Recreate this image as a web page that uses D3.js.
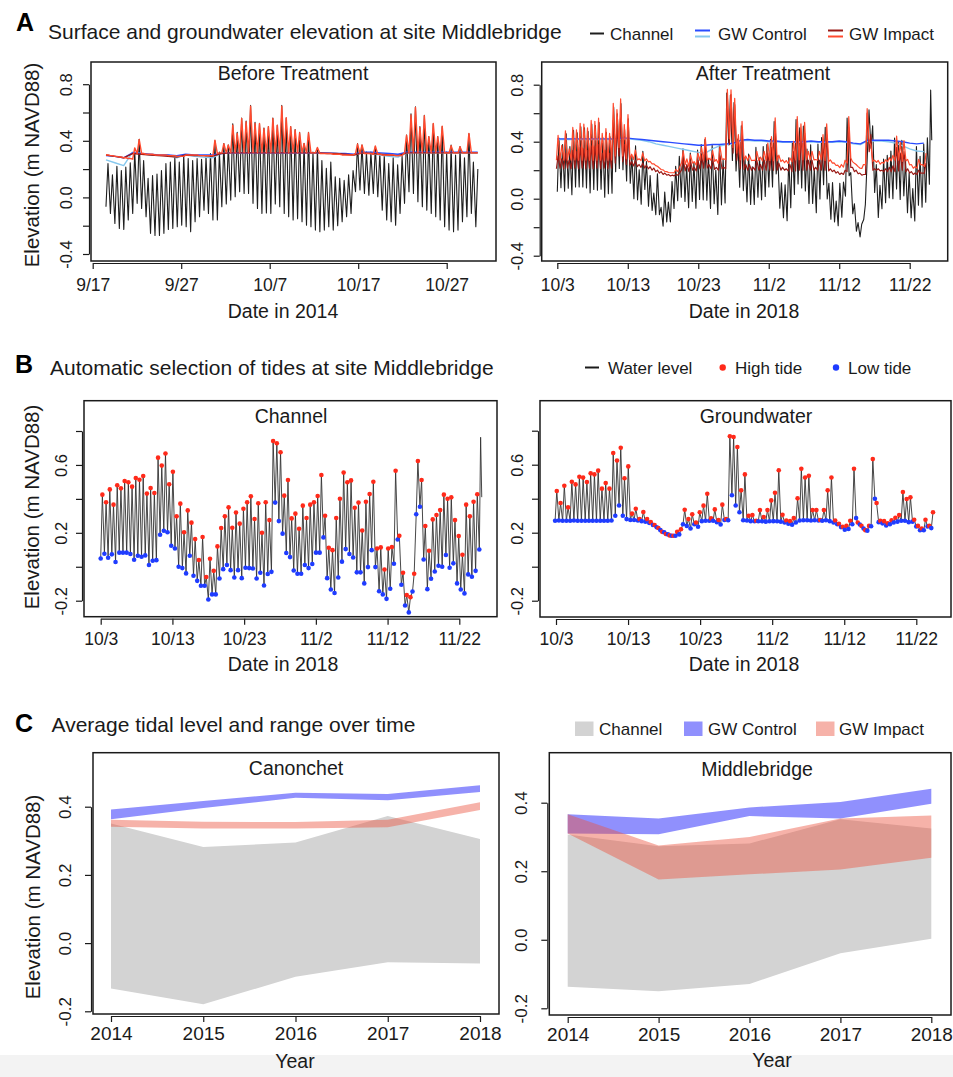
<!DOCTYPE html>
<html>
<head>
<meta charset="utf-8">
<script src="https://cdn.jsdelivr.net/npm/d3@7"></script>
<style>
  body { margin: 0; background: #fff; }
  svg { display: block; }
</style>
</head>
<body>
<svg id="chart" width="953" height="1077"></svg>
<script>
// ---- panel A, 2014 (before treatment) ----
const chan14Span = ['2014-09-18T12:00', '2014-10-30T07:00'];
const chan14Low = [-0.066,-0.113,-0.184,-0.219,-0.226,-0.160,-0.113,-0.042,-0.078,-0.137,
  -0.254,-0.269,-0.269,-0.254,-0.226,-0.219,-0.207,-0.196,-0.207,-0.243,
  -0.172,-0.137,-0.090,-0.113,-0.160,-0.160,-0.066,-0.047,-0.019,0.005,
  0.040,0.028,0.028,-0.042,-0.078,-0.113,-0.110,-0.113,-0.047,-0.066,
  -0.113,-0.137,-0.160,-0.150,-0.172,-0.196,-0.207,-0.231,-0.243,-0.231,
  -0.207,-0.231,-0.200,-0.172,-0.137,-0.113,0.040,0.052,0.028,0.016,
  0.028,0.005,-0.090,-0.160,-0.172,-0.196,-0.113,-0.042,0.040,0.028,
  -0.031,-0.066,-0.090,-0.113,-0.137,-0.160,-0.207,-0.231,-0.243,-0.231,
  -0.172,-0.137,-0.113,-0.207];
const chan14High = [0.24,0.16,0.22,0.19,0.215,0.245,0.32,0.41,0.26,0.135,
  0.155,0.165,0.19,0.24,0.25,0.285,0.25,0.30,0.275,0.26,
  0.275,0.27,0.285,0.31,0.40,
  0.32,0.38,0.37,0.52,0.46,0.56,0.54,0.65,0.53,0.52,
  0.49,0.50,0.56,0.51,0.65,0.56,0.50,0.48,0.46,0.38,
  0.46,0.32,0.35,
  0.26,0.205,0.25,0.145,0.135,0.12,0.16,0.19,
  0.38,0.37,0.32,0.32,0.36,0.31,0.30,0.24,0.28,0.23,0.29,
  0.44,0.59,0.64,0.50,0.58,0.43,0.52,0.43,0.50,0.32,0.37,0.30,0.36,0.28,0.45,0.25,0.20];
const imp14Low = [0.30,0.295,0.29,0.285,0.28,0.275,0.27,
  0.31,0.31,0.305,0.305,0.30,0.30,0.30,0.295,0.295,0.29,0.29,
  0.30,0.30,0.30,0.295,0.295,0.295,0.295,
  0.31,0.315,0.315,0.315,0.315,0.315,0.315,0.315,0.315,0.315,0.315,0.315,
  0.315,0.315,0.315,0.315,0.315,0.315,0.315,0.315,0.315,0.315,0.315,
  0.31,0.31,0.31,0.305,0.305,0.30,0.30,0.30,
  0.31,0.31,0.31,0.31,0.305,0.305,0.30,0.30,0.30,0.295,0.295,
  0.315,0.315,0.315,0.315,0.315,0.315,0.315,0.315,0.315,0.315,0.315,0.315,0.315,0.315,0.315,0.315,0.315];
const imp14High = [0.30,0.295,0.29,0.285,0.28,0.275,0.35,
  0.41,0.31,0.305,0.305,0.30,0.30,0.30,0.295,0.295,0.29,0.29,
  0.30,0.30,0.30,0.295,0.295,0.295,0.405,
  0.315,0.38,0.37,0.511,0.452,0.558,0.535,0.645,0.523,0.523,0.488,0.50,
  0.558,0.511,0.645,0.563,0.50,0.476,0.457,0.382,0.457,0.315,0.353,
  0.31,0.31,0.31,0.305,0.305,0.30,0.30,0.30,
  0.377,0.37,0.31,0.31,0.363,0.305,0.30,0.30,0.30,0.295,0.295,
  0.44,0.582,0.636,0.492,0.577,0.429,0.523,0.429,0.504,0.315,0.365,0.315,0.358,0.315,0.452,0.315,0.315];
// daily values, starting 9/18 noon
const daily14Start = '2014-09-18T12:00';
const ctrl14a = [0.295,0.29,0.28,0.315,0.31,0.305,0.30,0.30,0.295,0.305,0.30,0.30,0.30,
  0.31,0.315,0.315,0.315,0.315,0.315,0.315,0.315,0.315,0.315,0.315,0.315,
  0.315,0.31,0.31,0.305,0.32,0.32,0.315,0.31,0.305,
  0.32,0.32,0.32,0.32,0.32,0.32,0.32,0.32,0.32];
const ctrl14b = [0.265,0.245,0.225,0.32,0.31,0.30,0.295,0.30,0.28,0.30,0.29,0.285,0.28,
  0.31,0.315,0.315,0.315,0.315,0.315,0.315,0.315,0.315,0.315,0.315,0.315,
  0.315,0.31,0.305,0.30,0.315,0.31,0.30,0.29,0.285,
  0.315,0.315,0.315,0.315,0.315,0.315,0.315,0.315,0.315];
const imp14b = [0.30,0.29,0.28,0.31,0.305,0.30,0.295,0.29,0.285,0.30,0.295,0.295,0.29,
  0.31,0.315,0.315,0.315,0.315,0.315,0.315,0.315,0.315,0.315,0.315,0.315,
  0.31,0.31,0.305,0.30,0.315,0.31,0.305,0.30,0.295,
  0.315,0.315,0.315,0.315,0.315,0.315,0.315,0.315,0.315];

// ---- 2018 (after treatment), tides of channel and groundwater ----
const chan18Span = ['2018-10-03T00:00', '2018-11-24T19:00'];
const chan18Low = [0.049,0.077,0.053,0.073,0.028,0.083,0.083,0.083,0.075,0.041,
  0.065,0.059,0.067,0.010,0.035,0.039,0.189,0.212,0.203,0.124,
  0.108,0.000,-0.008,-0.039,0.065,-0.053,-0.083,-0.112,-0.112,-0.193,
  -0.163,-0.163,-0.069,-0.014,0.010,-0.020,-0.063,-0.020,-0.067,-0.006,
  -0.008,-0.010,-0.069,-0.035,-0.110,-0.043,-0.030,0.378,0.269,0.195,
  0.081,0.057,-0.022,-0.041,-0.041,0.010,-0.008,0.016,0.083,0.083,
  0.173,-0.067,-0.134,-0.155,-0.063,0.030,0.104,0.075,0.055,-0.033,
  -0.033,-0.098,-0.002,0.098,-0.002,-0.144,-0.163,-0.189,-0.130,0.018,
  0.161,-0.106,-0.228,-0.269,-0.146,0.309,0.354,0.043,-0.132,-0.071,
  -0.028,0.006,0.000,0.069,-0.006,0.020,-0.098,-0.134,-0.157,-0.045,
  -0.059,-0.024,0.102];
const chan18High = [0.425,0.380,0.456,0.366,0.480,0.462,0.505,0.498,0.472,0.523,
  0.513,0.535,0.431,0.464,0.435,0.643,0.596,0.667,0.486,0.560,
  0.297,0.372,0.203,0.332,0.260,0.163,0.040,0.175,-0.060,0.047,
  -0.024,0.120,0.228,0.297,0.350,0.230,0.320,0.254,0.342,0.380,
  0.415,0.281,0.374,0.200,0.380,0.275,0.741,0.728,0.675,0.419,
  0.511,0.285,0.313,0.224,0.360,0.287,0.366,0.380,0.417,0.541,
  0.301,0.112,0.098,0.287,0.401,0.555,0.498,0.509,0.348,0.378,
  0.214,0.383,0.429,0.501,0.108,0.114,-0.016,0.108,0.116,0.566,
  0.183,-0.035,-0.167,-0.179,-0.041,0.623,0.511,0.240,0.094,0.279,
  0.305,0.334,0.425,0.401,0.409,0.275,0.181,0.071,0.366,0.297,
  0.383,0.427];
const chan18End = [0.763, 0.41];   // last rise, not marked as a tide

const gw18Span = ['2018-10-02T21:00', '2018-11-24T02:00'];
const gw18Low = [0.270,0.272,0.270,0.270,0.270,0.272,0.270,0.270,0.270,0.270,
  0.270,0.270,0.270,0.270,0.270,0.272,0.300,0.360,0.300,0.280,
  0.275,0.275,0.272,0.268,0.265,0.258,0.245,0.232,0.215,0.202,
  0.190,0.182,0.182,0.190,0.250,0.240,0.225,0.250,0.235,0.268,
  0.270,0.270,0.270,0.262,0.248,0.275,0.273,0.420,0.360,0.320,
  0.273,0.272,0.268,0.267,0.267,0.267,0.265,0.267,0.268,0.267,
  0.265,0.260,0.253,0.247,0.260,0.272,0.273,0.273,0.272,0.273,
  0.272,0.270,0.273,0.268,0.260,0.250,0.233,0.218,0.222,0.250,
  0.286,0.248,0.225,0.212,0.238,0.400,0.262,0.255,0.242,0.250,
  0.260,0.265,0.270,0.270,0.262,0.265,0.237,0.214,0.214,0.237,
  0.227];
const gw18High = [0.445,0.375,0.476,0.349,0.500,0.484,0.529,0.524,0.498,0.549,
  0.543,0.565,0.459,0.492,0.459,0.669,0.625,0.700,0.520,0.590,
  0.312,0.341,0.280,0.322,0.280,0.262,0.245,0.228,0.205,0.192,
  0.184,0.182,0.205,0.220,0.335,0.280,0.308,0.260,0.320,0.359,
  0.429,0.284,0.337,0.275,0.365,0.280,0.767,0.763,0.704,0.449,
  0.543,0.300,0.304,0.270,0.333,0.292,0.333,0.390,0.435,0.567,
  0.306,0.272,0.268,0.286,0.402,0.576,0.525,0.535,0.333,0.333,
  0.275,0.333,0.449,0.525,0.272,0.252,0.235,0.240,0.270,0.576,
  0.260,0.240,0.215,0.240,0.633,0.375,0.270,0.268,0.255,0.273,
  0.288,0.304,0.439,0.398,0.408,0.276,0.240,0.225,0.276,0.240,
  0.320];
// second impact well (dark red), same tide times as gw18
const imp18bLow = [0.21,0.215,0.21,0.215,0.21,0.215,0.21,0.215,0.21,0.215,0.21,0.215,0.21,0.215,0.21,0.215,
  0.25,0.30,0.26,0.24,
  0.235,0.23,0.225,0.22,0.215,0.21,0.20,0.19,0.18,0.17,0.165,0.16,0.16,0.165,
  0.20,0.195,0.19,0.20,0.195,0.21,0.215,0.215,0.21,0.205,0.20,0.21,0.21,
  0.38,0.32,0.27,0.21,
  0.205,0.20,0.20,0.20,0.20,0.20,0.20,0.20,0.20,0.20,0.20,0.20,0.195,0.19,0.195,0.20,0.20,0.20,0.20,0.20,0.20,0.20,0.20,
  0.195,0.19,0.18,0.17,0.17,0.19,0.22,0.19,0.175,0.165,0.17,
  0.33,
  0.20,0.20,0.195,0.19,0.19,0.19,0.19,0.195,0.20,0.19,0.18,0.17,0.17,0.18,0.18];
const imp18bHigh = [0.30,0.28,0.32,0.27,0.34,0.33,0.36,0.35,0.34,0.37,0.37,0.38,0.32,0.34,0.32,0.55,0.50,0.58,0.38,0.46,
  0.26,0.27,0.24,0.25,0.235,0.225,0.215,0.20,0.19,0.18,0.17,0.165,0.17,0.18,
  0.28,0.24,0.26,0.22,0.27,0.30,0.36,0.24,0.28,0.22,0.30,0.22,0.72,
  0.73,0.66,0.40,0.48,
  0.24,0.24,0.22,0.27,0.24,0.27,0.32,0.36,0.50,0.25,0.22,0.21,0.24,0.33,0.50,0.45,0.46,0.27,0.27,0.22,0.27,0.38,0.45,
  0.21,0.20,0.19,0.18,0.20,0.50,0.22,0.20,0.18,0.17,0.60,
  0.45,
  0.21,0.21,0.20,0.21,0.22,0.23,0.36,0.32,0.33,0.21,0.19,0.18,0.20,0.18,0.25];
// control wells, daily from 10/3
const daily18Start = '2018-10-03T00:00';
const ctrl18a = [0.42,0.42,0.42,0.42,0.42,0.42,0.42,0.42,0.42,0.425,
  0.425,0.42,0.415,0.41,0.405,0.40,0.395,0.39,0.385,0.38,
  0.375,0.375,0.38,0.38,0.385,0.39,0.41,0.415,0.41,0.41,
  0.405,0.405,0.40,0.40,0.40,0.40,0.405,0.40,0.40,0.40,
  0.405,0.40,0.39,0.385,0.41,0.41,0.41,0.41,0.405,0.40,
  0.39,0.385,0.39];
const ctrl18b = [0.415,0.415,0.415,0.415,0.415,0.415,0.415,0.415,0.415,0.42,
  0.42,0.415,0.41,0.40,0.385,0.375,0.365,0.355,0.345,0.335,
  0.325,0.32,0.35,0.37,0.38,0.385,0.405,0.41,0.405,0.405,
  0.40,0.40,0.395,0.395,0.395,0.395,0.40,0.395,0.395,0.395,
  0.40,0.395,0.385,0.38,0.405,0.405,0.405,0.40,0.39,0.37,
  0.35,0.335,0.33];

const ticks14 = ['2014-09-17', '2014-09-27', '2014-10-07', '2014-10-17', '2014-10-27'];
const ticks18 = ['2018-10-03', '2018-10-13', '2018-10-23', '2018-11-02', '2018-11-12', '2018-11-22'];

// ---- panel C, yearly tidal ranges ----
const years = [2014, 2015, 2016, 2017, 2018];
const canChanLow  = [-0.133, -0.179, -0.099, -0.056, -0.060];
const canChanHigh = [0.351, 0.282, 0.295, 0.373, 0.305];
const canCtrlLow  = [0.363, 0.396, 0.426, 0.419, 0.443];
const canCtrlHigh = [0.392, 0.417, 0.441, 0.437, 0.463];
const canImpLow   = [0.341, 0.336, 0.336, 0.340, 0.390];
const canImpHigh  = [0.362, 0.356, 0.355, 0.362, 0.413];
const midChanLow  = [-0.137, -0.150, -0.129, -0.039, 0.003];
const midChanHigh = [0.307, 0.273, 0.281, 0.352, 0.325];
const midCtrlLow  = [0.310, 0.308, 0.361, 0.354, 0.397];
const midCtrlHigh = [0.366, 0.354, 0.386, 0.402, 0.441];
const midImpLow   = [0.310, 0.176, 0.191, 0.205, 0.239];
const midImpHigh  = [0.366, 0.275, 0.300, 0.354, 0.363];

// ---------------------------------------------------------------
const FONT = '"Liberation Sans", Arial, Helvetica, sans-serif';
const INK = '#1a1a1a';
const svg = d3.select('#chart').attr('font-family', FONT);
const parseDay = d3.timeParse('%Y-%m-%d');
const parseTime = d3.timeParse('%Y-%m-%dT%H:%M');
const DAY = 864e5;
const mdFormat = d => `${d.getMonth() + 1}/${d.getDate()}`;

// lows and highs alternate; the high follows its low by a bit less than half a tide
function tides(span, lows, highs) {
  const t0 = parseTime(span[0]).getTime();
  const step = (parseTime(span[1]).getTime() - t0) / (lows.length - 1);
  const pts = [];
  lows.forEach((v, i) => {
    pts.push({ t: new Date(t0 + i * step), v, high: false });
    if (i < highs.length) pts.push({ t: new Date(t0 + (i + 0.45) * step), v: highs[i], high: true });
  });
  pts.step = step;
  return pts;
}

function daily(start, vals) {
  const t0 = parseTime(start).getTime();
  return vals.map((v, i) => ({ t: new Date(t0 + i * DAY), v }));
}

svg.append('rect').attr('x', 0).attr('y', 1055).attr('width', 953).attr('height', 22).attr('fill', '#f3f3f3');

function frame(c) {
  const x = (c.time ? d3.scaleTime() : d3.scaleLinear()).domain(c.xDomain).range(c.xRange);
  const y = d3.scaleLinear().domain(c.yDomain).range(c.yRange);
  const [bx0, by0, bx1, by1] = c.box;
  svg.append('clipPath').attr('id', 'clip-' + c.id).append('rect')
    .attr('x', bx0).attr('y', by0).attr('width', bx1 - bx0).attr('height', by1 - by0);
  const plot = svg.append('g').attr('clip-path', `url(#clip-${c.id})`);

  const gx = svg.append('g').attr('transform', `translate(0,${by1 + 2})`)
    .call(d3.axisBottom(x).tickValues(c.xTicks).tickFormat(c.xFormat).tickSize(6).tickSizeOuter(0));
  gx.selectAll('.tick text').attr('y', c.xLabelDy).attr('dy', 0);

  const labelled = new Set(c.yLabels.map(String));
  const gy = svg.append('g').attr('transform', `translate(${bx0 - 2},0)`)
    .call(d3.axisLeft(y).tickValues(c.yTicks).tickSize(6).tickSizeOuter(0)
      .tickFormat(d => labelled.has(String(d)) ? d.toFixed(1) : ''));
  gy.selectAll('.tick text')
    .attr('transform', 'rotate(-90)')
    .attr('x', 0).attr('y', -c.yLabelDx).attr('dy', 0)
    .attr('text-anchor', 'middle');

  gx.attr('font-size', c.xFont);
  gy.attr('font-size', c.yFont);
  [gx, gy].forEach(g => {
    g.attr('font-family', FONT);
    g.selectAll('path, line').attr('stroke', INK).attr('stroke-width', 1.2);
    g.selectAll('text').attr('fill', INK);
  });

  const box = () => svg.append('rect').attr('x', bx0).attr('y', by0)
    .attr('width', bx1 - bx0).attr('height', by1 - by0)
    .attr('fill', 'none').attr('stroke', INK).attr('stroke-width', 1.5);

  svg.append('text').attr('x', c.title[1]).attr('y', c.title[2]).attr('text-anchor', 'middle')
    .attr('font-size', 19.5).attr('fill', INK).text(c.title[0]);
  svg.append('text').attr('x', c.xTitle[1]).attr('y', c.xTitle[2]).attr('text-anchor', 'middle')
    .attr('font-size', 19.5).attr('fill', INK).text(c.xTitle[0]);
  return { x, y, plot, box };
}

function yTitle(cx, cy) {
  svg.append('text').attr('transform', `translate(${cx},${cy}) rotate(-90)`)
    .attr('text-anchor', 'middle').attr('dy', '0.35em')
    .attr('font-size', 20.5).attr('fill', INK).text('Elevation (m NAVD88)');
}

function heading(letter, lx, ly, text, tx, ty) {
  svg.append('text').attr('x', lx).attr('y', ly).attr('font-size', 25).attr('font-weight', 'bold')
    .attr('fill', '#000').text(letter);
  svg.append('text').attr('x', tx).attr('y', ty).attr('font-size', 21).attr('fill', INK).text(text);
}

function drawLine(f, data, color, width) {
  f.plot.append('path').datum(data)
    .attr('fill', 'none').attr('stroke', color).attr('stroke-width', width)
    .attr('stroke-linejoin', 'round')
    .attr('d', d3.line().x(d => f.x(d.t)).y(d => f.y(d.v)));
}

const C_CHAN = '#1e1e1e', C_CTRL = '#2a4cff', C_CTRL2 = '#86c8ee', C_IMP = '#ff4a2e', C_IMP2 = '#9a1a16';

// ---- series ----
const chan14 = tides(chan14Span, chan14Low, chan14High);
const imp14 = tides(chan14Span, imp14Low, imp14High);
const chan18 = tides(chan18Span, chan18Low, chan18High);
const lastT = chan18[chan18.length - 1].t.getTime();
const chan18Line = chan18.concat(chan18End.map((v, i) => ({ t: new Date(lastT + (0.35 + 0.3 * i) * chan18.step), v })));
const gw18 = tides(gw18Span, gw18Low, gw18High);
const imp18b = tides(gw18Span, imp18bLow, imp18bHigh);

// ---- A ----
heading('A', 16, 31, 'Surface and groundwater elevation at site Middlebridge', 48, 39);
yTitle(32, 165);
const yTicksA = [-0.4, -0.2, 0, 0.2, 0.4, 0.6, 0.8];
const yLabA = [-0.4, 0, 0.4, 0.8];

const a1 = frame({ id: 'a1', time: true, box: [91, 62, 496, 261],
  xDomain: [parseDay(ticks14[0]), parseDay(ticks14[4])], xRange: [92.7, 446.7],
  yDomain: [-0.4, 0.8], yRange: [254, 84.2],
  xTicks: ticks14.map(parseDay), xFormat: mdFormat, yTicks: yTicksA, yLabels: yLabA,
  xLabelDy: 28, yLabelDx: 17, xFont: 17.5, yFont: 16.5,
  title: ['Before Treatment', 293, 80], xTitle: ['Date in 2014', 283, 318] });
drawLine(a1, chan14, C_CHAN, 1.1);
drawLine(a1, daily(daily14Start, ctrl14b), C_CTRL2, 1.4);
drawLine(a1, daily(daily14Start, ctrl14a), C_CTRL, 1.4);
drawLine(a1, daily(daily14Start, imp14b), C_IMP2, 1.4);
drawLine(a1, imp14, C_IMP, 1.4);
a1.box();

const a2 = frame({ id: 'a2', time: true, box: [541.7, 62, 947.7, 261],
  xDomain: [parseDay(ticks18[0]), parseDay(ticks18[5])], xRange: [557.3, 909.7],
  yDomain: [-0.4, 0.8], yRange: [255.7, 84.7],
  xTicks: ticks18.map(parseDay), xFormat: mdFormat, yTicks: yTicksA, yLabels: yLabA,
  xLabelDy: 28, yLabelDx: 17, xFont: 17.5, yFont: 16.5,
  title: ['After Treatment', 763, 80], xTitle: ['Date in 2018', 744, 318] });
drawLine(a2, chan18Line, C_CHAN, 1.1);
drawLine(a2, daily(daily18Start, ctrl18b), C_CTRL2, 1.4);
drawLine(a2, daily(daily18Start, ctrl18a), C_CTRL, 1.4);
drawLine(a2, imp18b, C_IMP2, 1.2);
drawLine(a2, gw18, C_IMP, 1.2);
a2.box();

// legend A
const legA = svg.append('g').attr('font-size', 17).attr('fill', INK);
legA.append('line').attr('x1', 590).attr('x2', 604).attr('y1', 33.5).attr('y2', 33.5).attr('stroke', C_CHAN).attr('stroke-width', 2);
legA.append('text').attr('x', 610).attr('y', 40).text('Channel');
[[C_CTRL, 30.5], [C_CTRL2, 36.5]].forEach(([c, yy]) =>
  legA.append('line').attr('x1', 695).attr('x2', 710).attr('y1', yy).attr('y2', yy).attr('stroke', c).attr('stroke-width', 2));
legA.append('text').attr('x', 718).attr('y', 40).text('GW Control');
[[C_IMP2, 30.5], [C_IMP, 36.5]].forEach(([c, yy]) =>
  legA.append('line').attr('x1', 828).attr('x2', 843).attr('y1', yy).attr('y2', yy).attr('stroke', c).attr('stroke-width', 2));
legA.append('text').attr('x', 849).attr('y', 40).text('GW Impact');

// ---- B ----
heading('B', 15, 372.5, 'Automatic selection of tides at site Middlebridge', 50, 375);
yTitle(32, 507);
const yTicksB = [-0.2, 0, 0.2, 0.4, 0.6, 0.8];
const yLabB = [-0.2, 0.2, 0.6];
const C_HI = '#ff2a1a', C_LO = '#1f3cff';

function tidePanel(f, series, line) {
  drawLine(f, line || series, '#333', 0.9);
  f.plot.selectAll(null).data(series).enter().append('circle')
    .attr('cx', d => f.x(d.t)).attr('cy', d => f.y(d.v)).attr('r', 2.3)
    .attr('fill', d => d.high ? C_HI : C_LO);
  f.box();
}

const b1 = frame({ id: 'b1', time: true, box: [84, 400.7, 497, 616.7],
  xDomain: [parseDay(ticks18[0]), parseDay(ticks18[5])], xRange: [100.7, 459.3],
  yDomain: [-0.2, 0.8], yRange: [600.7, 431],
  xTicks: ticks18.map(parseDay), xFormat: mdFormat, yTicks: yTicksB, yLabels: yLabB,
  xLabelDy: 26, yLabelDx: 15, xFont: 17.5, yFont: 16.5,
  title: ['Channel', 291, 423], xTitle: ['Date in 2018', 283, 671] });
tidePanel(b1, chan18, chan18Line);

const b2 = frame({ id: 'b2', time: true, box: [540, 400.7, 951, 617],
  xDomain: [parseDay(ticks18[0]), parseDay(ticks18[5])], xRange: [556, 916.3],
  yDomain: [-0.2, 0.8], yRange: [600.7, 430.7],
  xTicks: ticks18.map(parseDay), xFormat: mdFormat, yTicks: yTicksB, yLabels: yLabB,
  xLabelDy: 26, yLabelDx: 15, xFont: 17.5, yFont: 16.5,
  title: ['Groundwater', 756, 423], xTitle: ['Date in 2018', 744, 671] });
tidePanel(b2, gw18);

const legB = svg.append('g').attr('font-size', 17).attr('fill', INK);
legB.append('line').attr('x1', 585).attr('x2', 599).attr('y1', 367.5).attr('y2', 367.5).attr('stroke', INK).attr('stroke-width', 2);
legB.append('text').attr('x', 608).attr('y', 374).text('Water level');
legB.append('circle').attr('cx', 722.7).attr('cy', 367.5).attr('r', 3.2).attr('fill', C_HI);
legB.append('text').attr('x', 735).attr('y', 374).text('High tide');
legB.append('circle').attr('cx', 836).attr('cy', 367.5).attr('r', 3.2).attr('fill', C_LO);
legB.append('text').attr('x', 848).attr('y', 374).text('Low tide');

// ---- C ----
heading('C', 15, 731.5, 'Average tidal level and range over time', 51.5, 731.5);
yTitle(33, 897);
const F_CHAN = '#d3d3d3', F_CTRL = 'rgba(20,20,250,0.47)', F_IMP = 'rgba(236,84,64,0.45)';

function bands(f, lows, highs, fill) {
  const data = years.map((yr, i) => ({ yr, lo: lows[i], hi: highs[i] }));
  f.plot.append('path').datum(data).attr('fill', fill)
    .attr('d', d3.area().x(d => f.x(d.yr)).y0(d => f.y(d.lo)).y1(d => f.y(d.hi)));
}

const cFmt = d3.format('d');
const c1 = frame({ id: 'c1', time: false, box: [93, 752.7, 499, 1014],
  xDomain: [2014, 2018], xRange: [111, 480], yDomain: [-0.2, 0.4], yRange: [1011.3, 806.7],
  xTicks: years, xFormat: cFmt, yTicks: [-0.2, 0, 0.2, 0.4], yLabels: [-0.2, 0, 0.2, 0.4],
  xLabelDy: 24, yLabelDx: 20, xFont: 19, yFont: 17,
  title: ['Canonchet', 296, 775], xTitle: ['Year', 295, 1068] });
bands(c1, canChanLow, canChanHigh, F_CHAN);
bands(c1, canCtrlLow, canCtrlHigh, F_CTRL);
bands(c1, canImpLow, canImpHigh, F_IMP);
c1.box();

const c2 = frame({ id: 'c2', time: false, box: [549.3, 752.7, 951, 1015],
  xDomain: [2014, 2018], xRange: [567.7, 931.3], yDomain: [-0.2, 0.4], yRange: [1008.3, 802.7],
  xTicks: years, xFormat: cFmt, yTicks: [-0.2, 0, 0.2, 0.4], yLabels: [-0.2, 0, 0.2, 0.4],
  xLabelDy: 24, yLabelDx: 20, xFont: 19, yFont: 17,
  title: ['Middlebridge', 757, 776], xTitle: ['Year', 772, 1067] });
bands(c2, midChanLow, midChanHigh, F_CHAN);
bands(c2, midCtrlLow, midCtrlHigh, F_CTRL);
bands(c2, midImpLow, midImpHigh, F_IMP);
c2.box();

const legC = svg.append('g').attr('font-size', 17).attr('fill', INK);
[[F_CHAN, 575, 'Channel', 599], [F_CTRL, 684, 'GW Control', 708], [F_IMP, 816, 'GW Impact', 839]].forEach(([f, x0, label, tx]) => {
  legC.append('rect').attr('x', x0).attr('y', 721.5).attr('width', 18.5).attr('height', 14.5).attr('fill', f);
  legC.append('text').attr('x', tx).attr('y', 734.5).text(label);
});
</script>
</body>
</html>
